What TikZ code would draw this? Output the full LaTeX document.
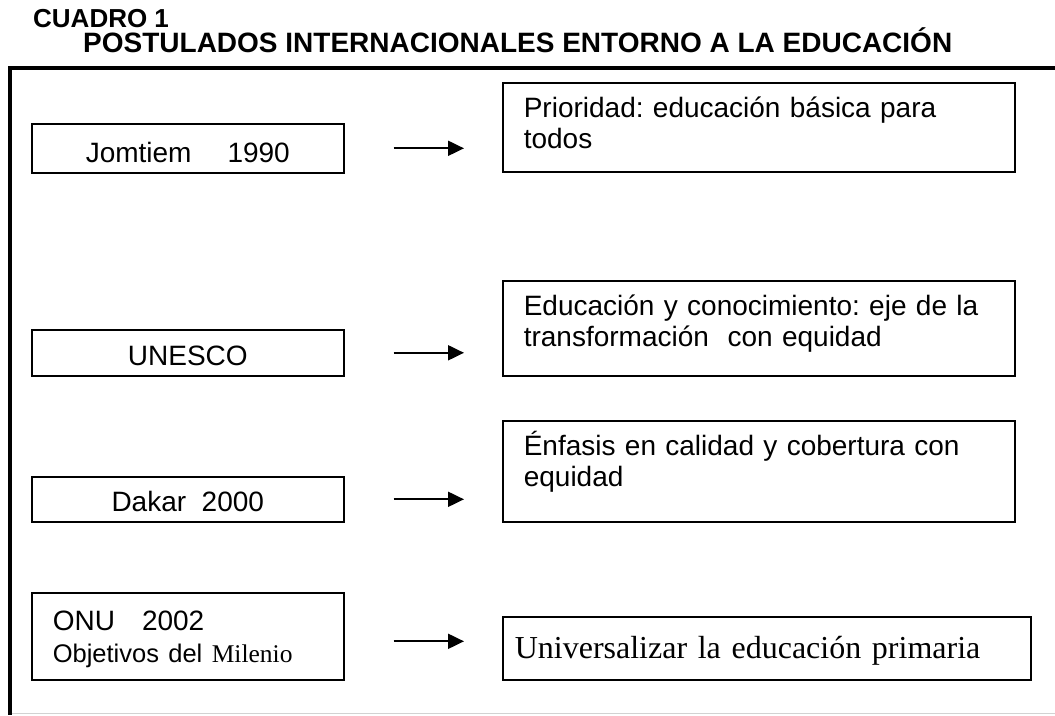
\documentclass[tikz,border=0pt]{standalone}
\usepackage{fontspec}
\setmainfont{Liberation Sans}
\newfontfamily\timesfont{Liberation Serif}
\usetikzlibrary{arrows.meta}
\frenchspacing
\hyphenpenalty=10000
\exhyphenpenalty=10000
\tikzset{
  cuadro/.style={line width=3.5pt},
  titulos/.style={anchor=base west, inner sep=0pt, font=\fontsize{26}{30}\selectfont\bfseries},
  sitebox/.style={draw, line width=1.6pt, anchor=north west, minimum width=312pt,
    inner xsep=0pt, inner ysep=0pt, text height=39pt, text depth=10pt},
  goalbox/.style={draw, line width=1.6pt, anchor=north west, align=left,
    text width=470pt, inner xsep=21pt, inner ysep=0pt, text height=35pt},
  flecha/.style={-{Triangle[length=16pt,width=15pt]}, line width=2pt,
    shorten <=49pt, shorten >=38pt}
}
\begin{document}
\begin{tikzpicture}[x=1pt, y=-1pt, font=\fontsize{28}{31}\selectfont]
\useasboundingbox (0,0) rectangle (1055,715);
% titulo
\node (num) [titulos] at (33,27) {CUADRO 1};
\node (titulo) [titulos, font=\fontsize{28}{30}\selectfont\bfseries] at (83,52)
  {POSTULADOS INTERNACIONALES ENTORNO A LA EDUCACIÓN};
% marco
\draw [cuadro] (1055,68) -- (10,68) -- (10,715);
\draw [gray!35, line width=1pt] (12,713) -- (1055,713);
% encuentros
\node (jomtiem) [sitebox] at (31,123) {Jomtiem\hspace{36pt}1990};
\node (unesco) [sitebox, text height=36pt] at (31,329) {UNESCO};
\node (dakar) [sitebox, text height=35pt] at (31,476) {Dakar\ \ 2000};
\node (onu) [sitebox, align=left, text width=270pt, inner xsep=21pt,
  text height=38pt, text depth=49pt] at (31,592)
  {ONU\hspace{27pt}2002\\[1pt]
   {\fontsize{25.5}{30}\selectfont Objetivos del {\timesfont Milenio}}};
% postulados
\node (prioridad) [goalbox, text depth=54pt] at (502,82)
  {Prioridad: educación básica para todos};
\node (equidad) [goalbox, text depth=60pt] at (502,280)
  {Educación y conocimiento: eje de la transformación\ \ con equidad};
\node (enfasis) [goalbox, text depth=66pt] at (502,420)
  {Énfasis en calidad y cobertura con equidad};
\node (primaria) [goalbox, text width=504pt, inner xsep=12pt, text height=42pt,
  text depth=21pt, font=\timesfont\fontsize{32}{36}\selectfont] at (502,616)
  {Universalizar la educación primaria};
% flechas
\draw [flecha] (jomtiem.east) -- (jomtiem.east -| prioridad.west);
\draw [flecha] (unesco.east) -- (unesco.east -| equidad.west);
\draw [flecha] (dakar.east) -- (dakar.east -| enfasis.west);
\draw [flecha] ([yshift=-5pt]onu.east) -- ([yshift=-5pt]onu.east -| primaria.west);
\end{tikzpicture}
\end{document}
